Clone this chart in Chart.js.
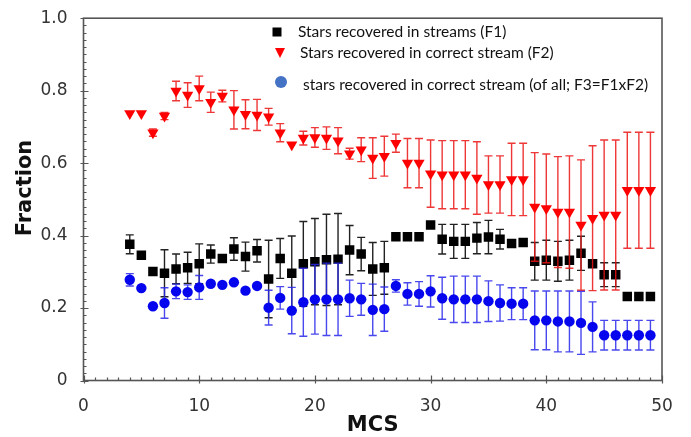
<!DOCTYPE html>
<html><head><meta charset="utf-8">
<script src="https://cdn.jsdelivr.net/npm/chart.js@4/dist/chart.umd.min.js"></script>
<style>html,body{margin:0;padding:0;background:#fff}#wrap{width:691px;height:437px;position:relative}</style>
</head><body><div id="wrap"><canvas id="c" width="691" height="437"></canvas></div>
<script>
// ---- data ----
const mcs = [4,5,6,7,8,9,10,11,12,13,14,15,16,17,18,19,20,21,22,23,24,25,26,27,28,29,30,31,32,33,34,35,36,37,38,39,40,41,42,43,44,45,46,47,48,49];

const f1 = [0.376,0.346,0.301,0.296,0.308,0.311,0.322,0.349,0.337,0.363,0.342,0.358,0.280,0.337,
            0.296,0.322,0.328,0.333,0.335,0.360,0.349,0.308,0.311,0.397,0.397,0.397,0.429,0.390,0.384,0.384,
            0.393,0.396,0.390,0.378,0.381,0.329,0.332,0.329,0.332,0.351,0.322,0.292,0.292,0.232,0.232,0.232];
const f1Err = [0.026,0,0,0.065,0.041,0.043,0.055,0.025,0,0.031,0.040,0.031,0.107,0.055,
               0.103,0.117,0.119,0.126,0.126,0.068,0.046,0.073,0.073,0,0,0,0,0.041,0.047,0.047,
               0.043,0.046,0.027,0,0,0.052,0.055,0.055,0.055,0.047,0,0.033,0.033,0,0,0];

const f2 = [0.737,0.737,0.684,0.730,0.799,0.788,0.806,0.768,0.785,0.747,0.735,0.733,0.728,0.684,
            0.651,0.669,0.671,0.669,0.662,0.626,0.637,0.614,0.619,0.655,0.600,0.600,0.571,0.568,0.568,0.568,
            0.559,0.541,0.541,0.555,0.555,0.479,0.475,0.465,0.465,0.429,0.448,0.457,0.457,0.525,0.525,0.525];
const f2Err = [0,0,0.010,0.010,0.027,0.034,0.034,0.028,0.016,0.053,0.040,0.043,0.023,0.025,
               0,0.019,0.027,0.031,0.036,0.015,0.033,0.056,0.055,0.025,0.068,0.068,0.093,0.094,0.094,0.094,
               0.100,0.079,0.079,0.100,0.100,0.150,0.150,0.153,0.155,0.180,0.200,0.207,0.207,0.160,0.160,0.160];

const f3 = [0.278,0.255,0.205,0.214,0.246,0.244,0.257,0.267,0.264,0.271,0.248,0.261,0.201,0.228,
            0.193,0.216,0.224,0.224,0.224,0.227,0.224,0.195,0.197,0.261,0.239,0.239,0.246,0.227,0.224,0.224,
            0.224,0.219,0.214,0.212,0.212,0.166,0.166,0.163,0.163,0.159,0.148,0.125,0.125,0.125,0.125,0.125];
const f3Err = [0.017,0,0,0.042,0.020,0.020,0.033,0,0,0,0,0,0.048,0.031,
               0.064,0.094,0.096,0.100,0.100,0.050,0.044,0.071,0.061,0.017,0.031,0.034,0.043,0.058,0.064,0.064,
               0.064,0.056,0.050,0.044,0.044,0.081,0.081,0.084,0.084,0.087,0.069,0.041,0.041,0.041,0.041,0.041];

const xTicks = [0,10,20,30,40,50];
const yTicks = [0,0.2,0.4,0.6,0.8,1.0];
const seriesLabels = [
  'Stars recovered in streams (F1)',
  'Stars recovered in correct stream (F2)',
  'stars recovered in correct stream (of all; F3=F1xF2)'
];
const xTitle = 'MCS';
const yTitle = 'Fraction';

// ---- helpers ----
function pts(vals){ return mcs.map((x,i)=>({x:x, y:vals[i]})); }

const errPlugin = {
  id:'errbars',
  beforeDatasetDraw(chart, args){
    const ds = chart.data.datasets[args.index];
    if(!ds.errors) return;
    const ctx = chart.ctx, xs = chart.scales.x, ys = chart.scales.y;
    ctx.save();
    ctx.strokeStyle = ds.errColor; ctx.lineWidth = 1.4;
    ds.data.forEach((p,i)=>{
      const e = ds.errors[i]; if(!e) return;
      const px = xs.getPixelForValue(p.x);
      const yt = ys.getPixelForValue(p.y + e), yb = ys.getPixelForValue(p.y - e);
      ctx.beginPath();
      ctx.moveTo(px, yt); ctx.lineTo(px, yb);
      ctx.moveTo(px-4, yt); ctx.lineTo(px+4, yt);
      ctx.moveTo(px-4, yb); ctx.lineTo(px+4, yb);
      ctx.stroke();
    });
    ctx.restore();
  }
};

const framePlugin = {
  id:'frame',
  beforeDatasetsDraw(chart){
    const ctx = chart.ctx, a = chart.chartArea, xs = chart.scales.x, ys = chart.scales.y;
    ctx.save();
    ctx.strokeStyle = '#555'; ctx.lineWidth = 1.2;
    ctx.beginPath();
    for(let v=0; v<=50; v++){
      const px = Math.round(xs.getPixelForValue(v))+0.5;
      const major = v%10===0;
      ctx.moveTo(px, a.bottom + (major?3:0)); ctx.lineTo(px, a.bottom - (major?5:3));
    }
    for(let k=0; k<=50; k++){
      const py = Math.round(ys.getPixelForValue(k*0.02))+0.5;
      const major = k%10===0;
      ctx.moveTo(a.left - (major?3:0), py); ctx.lineTo(a.left + (major?5:3), py);
    }
    ctx.stroke();
    ctx.lineWidth = 1.6; ctx.strokeStyle = '#555';
    ctx.strokeRect(a.left, a.top, a.right-a.left, a.bottom-a.top);
    ctx.restore();
  },
  afterDraw(chart){
    const ctx = chart.ctx, a = chart.chartArea;
    ctx.save();
    // axis titles
    ctx.fillStyle = '#111';
    ctx.font = 'bold 21px "DejaVu Sans"';
    ctx.textAlign = 'center'; ctx.textBaseline = 'middle';
    ctx.fillText(xTitle, (a.left+a.right)/2 - 0, 426);
    ctx.save();
    ctx.translate(26, 188); ctx.rotate(-Math.PI/2);
    ctx.fillText(yTitle, 0, 0);
    ctx.restore();
    // legend
    const items = [
      {mx:277, my:32, tx:298, ty:32},
      {mx:280, my:53, tx:300, ty:53},
      {mx:281, my:82, tx:303, ty:85}
    ];
    ctx.textAlign = 'left'; ctx.textBaseline = 'middle';
    ctx.font = '15.5px Lato';
    items.forEach((it,i)=>{
      if(i===0){ ctx.fillStyle='#000'; ctx.fillRect(it.mx-4.5, it.my-4.5, 9, 9); }
      if(i===1){ ctx.fillStyle='#ff0000'; ctx.beginPath(); ctx.moveTo(it.mx-5, it.my-5); ctx.lineTo(it.mx+5, it.my-5); ctx.lineTo(it.mx, it.my+5); ctx.closePath(); ctx.fill(); }
      if(i===2){ ctx.fillStyle='#4472c4'; ctx.beginPath(); ctx.arc(it.mx, it.my, 6, 0, Math.PI*2); ctx.fill(); }
      ctx.fillStyle = '#111';
      ctx.fillText(seriesLabels[i], it.tx, it.ty);
    });
    ctx.restore();
  }
};

new Chart(document.getElementById('c'), {
  type:'scatter',
  data:{ datasets:[
    { label:seriesLabels[2], data:pts(f3), errors:f3Err, errColor:'rgba(40,40,235,0.85)',
      pointStyle:'circle', pointRadius:5.2, backgroundColor:'#0505ee', borderWidth:0 },
    { label:seriesLabels[1], data:pts(f2), errors:f2Err, errColor:'rgba(235,20,20,0.85)',
      pointStyle:'triangle', pointRotation:180, pointRadius:6.5, backgroundColor:'#ff0000', borderWidth:0 },
    { label:seriesLabels[0], data:pts(f1), errors:f1Err, errColor:'#222',
      pointStyle:'rect', pointRadius:6.7, backgroundColor:'#000', borderWidth:0 }
  ]},
  options:{
    responsive:false, animation:false, devicePixelRatio:1,
    layout:{ padding:{ top:16, right:29, left:0, bottom:0 } },
    plugins:{ legend:{display:false}, tooltip:{enabled:false} },
    scales:{
      x:{ type:'linear', min:0, max:50,
        afterBuildTicks(s){ s.ticks = xTicks.map(v=>({value:v})); },
        afterFit(s){ s.height = 56.5; },
        grid:{display:false}, border:{display:false},
        ticks:{ font:{family:'DejaVu Sans', size:17}, color:'#333', padding:8, maxRotation:0,
          callback:(v)=>String(v) } },
      y:{ type:'linear', min:0, max:1,
        afterBuildTicks(s){ s.ticks = yTicks.map(v=>({value:v})); },
        afterFit(s){ s.width = 83.5; },
        grid:{display:false}, border:{display:false},
        ticks:{ font:{family:'DejaVu Sans', size:17}, color:'#333', padding:8,
          callback:(v)=> v===0 ? '0' : Number(v).toFixed(1) } }
    }
  },
  plugins:[errPlugin, framePlugin]
});
</script>
</body></html>
